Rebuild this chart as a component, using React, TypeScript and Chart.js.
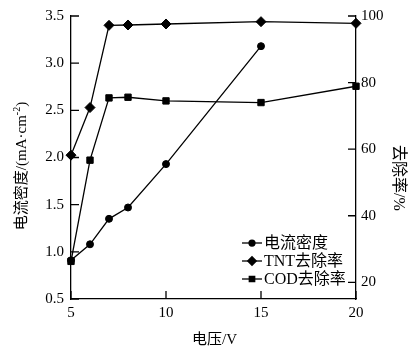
import React, { useEffect, useRef } from "react";
import { Chart, registerables } from "chart.js";
import { drawPoint } from "chart.js/helpers";

Chart.register(...registerables);

const currentVoltages = [5, 6, 7, 8, 10, 15];
const currentDensity = [0.91, 1.08, 1.35, 1.47, 1.93, 3.18];
const removalVoltages = [5, 6, 7, 8, 10, 15, 20];
const tntRemoval = [58.2, 72.5, 97.2, 97.3, 97.6, 98.3, 97.8];
const codRemoval = [26.3, 56.7, 75.4, 75.6, 74.5, 74.0, 78.9];
const xTicks = [5, 10, 15, 20];
const leftTicks = [0.5, 1.0, 1.5, 2.0, 2.5, 3.0, 3.5];
const rightTicks = [20, 40, 60, 80, 100];
const seriesNames = ["电流密度", "TNT去除率", "COD去除率"];
const seriesStyles = ["circle", "rectRot", "rect"];
const seriesRadius = [3.5, 5, 4.5];
const xTitle = "电压/V";
const leftTitleMain = "电流密度/(mA·cm";
const leftTitleSup = "-2";
const leftTitleEnd = ")";
const rightTitle = "去除率/%";

const FONT = "'Liberation Serif', 'Noto Sans CJK SC', serif";

const overlay = {
  id: "overlay",
  afterDraw(chart: any) {
    const ctx = chart.ctx as CanvasRenderingContext2D;
    const { left, right, top, bottom } = chart.chartArea;
    const xs = chart.scales.x;
    const ys = chart.scales.y;
    const y1 = chart.scales.y1;
    ctx.save();
    ctx.strokeStyle = "#000";
    ctx.fillStyle = "#000";
    ctx.lineWidth = 1.3;
    // inward ticks
    const tl = 8;
    ctx.beginPath();
    xTicks.forEach((v) => {
      const px = xs.getPixelForValue(v);
      ctx.moveTo(px, bottom);
      ctx.lineTo(px, bottom - tl);
    });
    leftTicks.forEach((v) => {
      const py = ys.getPixelForValue(v);
      ctx.moveTo(left, py);
      ctx.lineTo(left + tl, py);
    });
    rightTicks.forEach((v) => {
      const py = y1.getPixelForValue(v);
      ctx.moveTo(right, py);
      ctx.lineTo(right - tl, py);
    });
    ctx.stroke();

    // legend
    const rowsY = [243, 261, 279];
    const lx0 = 242;
    const lx1 = 262;
    ctx.font = `16px ${FONT}`;
    ctx.textBaseline = "middle";
    ctx.textAlign = "left";
    seriesNames.forEach((name, i) => {
      const yy = rowsY[i];
      ctx.beginPath();
      ctx.moveTo(lx0, yy);
      ctx.lineTo(lx1, yy);
      ctx.stroke();
      drawPoint(
        ctx,
        {
          pointStyle: seriesStyles[i],
          radius: seriesRadius[i] * 0.85,
          rotation: 0,
          borderWidth: 1,
        } as any,
        (lx0 + lx1) / 2,
        yy
      );
      ctx.fillText(name, lx1 + 2, yy + 1);
    });

    // x title
    ctx.font = `15px ${FONT}`;
    ctx.textAlign = "center";
    ctx.fillText(xTitle, (left + right) / 2 + 1, 340);

    // left title
    ctx.save();
    ctx.translate(22, 166);
    ctx.rotate(-Math.PI / 2);
    ctx.font = `15px ${FONT}`;
    const w1 = ctx.measureText(leftTitleMain).width;
    ctx.font = `10px ${FONT}`;
    const w2 = ctx.measureText(leftTitleSup).width;
    ctx.font = `15px ${FONT}`;
    const w3 = ctx.measureText(leftTitleEnd).width;
    let sx = -(w1 + w2 + w3) / 2;
    ctx.textAlign = "left";
    ctx.fillText(leftTitleMain, sx, 0);
    sx += w1;
    ctx.font = `10px ${FONT}`;
    ctx.fillText(leftTitleSup, sx, -5);
    sx += w2;
    ctx.font = `15px ${FONT}`;
    ctx.fillText(leftTitleEnd, sx, 0);
    ctx.restore();

    // right title
    ctx.save();
    ctx.translate(398, 178);
    ctx.rotate(Math.PI / 2);
    ctx.font = `16px ${FONT}`;
    ctx.textAlign = "center";
    ctx.fillText(rightTitle, 0, 0);
    ctx.restore();

    ctx.restore();
  },
};

export default function App() {
  const ref = useRef<HTMLCanvasElement>(null);
  useEffect(() => {
    document.body.style.margin = "0";
    const tickFont = { family: FONT, size: 15 };
    const lineDs = (label: string, xsArr: number[], ysArr: number[], axis: string, i: number) => ({
      label,
      data: xsArr.map((x, k) => ({ x, y: ysArr[k] })),
      yAxisID: axis,
      borderColor: "#000",
      backgroundColor: "#000",
      borderWidth: 1.3,
      pointStyle: seriesStyles[i],
      pointRadius: seriesRadius[i],
      pointBorderWidth: 1,
      pointBackgroundColor: "#000",
      pointBorderColor: "#000",
      tension: 0,
      clip: false,
      fill: false,
    });
    const chart = new Chart(ref.current as HTMLCanvasElement, {
      type: "line",
      data: {
        datasets: [
          lineDs(seriesNames[0], currentVoltages, currentDensity, "y", 0),
          lineDs(seriesNames[1], removalVoltages, tntRemoval, "y1", 1),
          lineDs(seriesNames[2], removalVoltages, codRemoval, "y1", 2),
        ] as any,
      },
      options: {
        responsive: false,
        animation: false,
        devicePixelRatio: 1,
        layout: { padding: { top: 15, left: 0, right: 0, bottom: 0 } },
        plugins: { legend: { display: false }, tooltip: { enabled: false } },
        scales: {
          x: {
            type: "linear",
            min: 5,
            max: 20,
            grid: { display: false, drawTicks: false },
            border: { display: true, color: "#000", width: 1.3 },
            ticks: { font: tickFont, color: "#000", padding: 5, stepSize: 5 },
            afterBuildTicks: (s: any) => {
              s.ticks = xTicks.map((v) => ({ value: v }));
            },
            afterFit: (s: any) => {
              s.height = 58;
            },
          },
          y: {
            type: "linear",
            position: "left",
            min: 0.5,
            max: 3.5,
            grid: { display: false, drawTicks: false },
            border: { display: true, color: "#000", width: 1.3 },
            ticks: {
              font: tickFont,
              color: "#000",
              padding: 7,
              callback: (v: any) => Number(v).toFixed(1),
            },
            afterBuildTicks: (s: any) => {
              s.ticks = leftTicks.map((v) => ({ value: v }));
            },
            afterFit: (s: any) => {
              s.width = 71;
            },
          },
          y1: {
            type: "linear",
            position: "right",
            min: 15,
            max: 100,
            grid: { display: false, drawTicks: false },
            border: { display: true, color: "#000", width: 1.3 },
            ticks: { font: tickFont, color: "#000", padding: 5 },
            afterBuildTicks: (s: any) => {
              s.ticks = rightTicks.map((v) => ({ value: v }));
            },
            afterFit: (s: any) => {
              s.width = 62;
            },
          },
        },
      } as any,
      plugins: [overlay],
    });
    return () => chart.destroy();
  }, []);
  return (
    <div style={{ width: 418, height: 357 }}>
      <canvas ref={ref} width={418} height={357} style={{ display: "block" }} />
    </div>
  );
}
